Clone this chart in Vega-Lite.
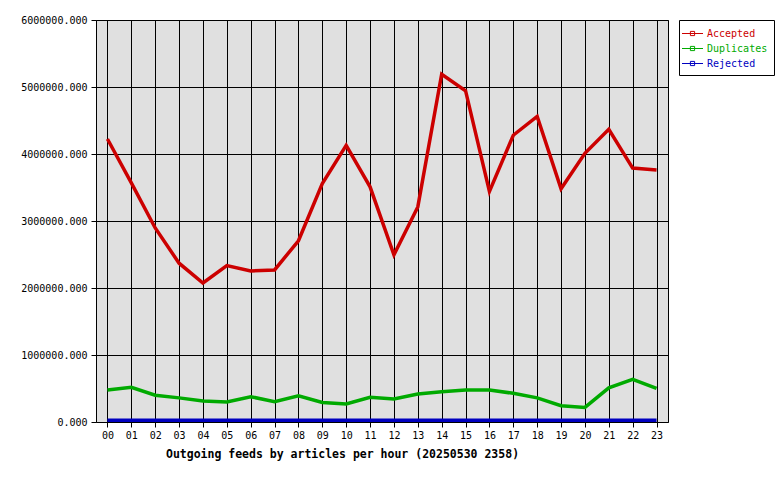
{
  "$schema": "https://vega.github.io/schema/vega-lite/v6.json",
  "width": 572,
  "height": 402,
  "autosize": "none",
  "padding": {"left": 96, "top": 20, "right": 112, "bottom": 58},
  "background": "white",
  "config": {
    "font": "DejaVu Sans Mono",
    "view": {"fill": "#e0e0e0", "stroke": "black", "strokeWidth": 1},
    "axis": {
      "gridColor": "black", "gridOpacity": 1, "gridWidth": 1,
      "tickColor": "black", "tickSize": 5, "tickWidth": 1,
      "domain": false,
      "labelFont": "DejaVu Sans Mono", "labelFontSize": 10, "labelColor": "black",
      "titleFont": "DejaVu Sans Mono", "titleColor": "black"
    }
  },
  "data": {
    "values": [
      {"hour": "00", "series": "Accepted", "value": 4224000},
      {"hour": "01", "series": "Accepted", "value": 3570000},
      {"hour": "02", "series": "Accepted", "value": 2896000},
      {"hour": "03", "series": "Accepted", "value": 2370000},
      {"hour": "04", "series": "Accepted", "value": 2075000},
      {"hour": "05", "series": "Accepted", "value": 2335000},
      {"hour": "06", "series": "Accepted", "value": 2255000},
      {"hour": "07", "series": "Accepted", "value": 2270000},
      {"hour": "08", "series": "Accepted", "value": 2705000},
      {"hour": "09", "series": "Accepted", "value": 3560000},
      {"hour": "10", "series": "Accepted", "value": 4130000},
      {"hour": "11", "series": "Accepted", "value": 3510000},
      {"hour": "12", "series": "Accepted", "value": 2495000},
      {"hour": "13", "series": "Accepted", "value": 3210000},
      {"hour": "14", "series": "Accepted", "value": 5190000},
      {"hour": "15", "series": "Accepted", "value": 4945000},
      {"hour": "16", "series": "Accepted", "value": 3440000},
      {"hour": "17", "series": "Accepted", "value": 4280000},
      {"hour": "18", "series": "Accepted", "value": 4560000},
      {"hour": "19", "series": "Accepted", "value": 3480000},
      {"hour": "20", "series": "Accepted", "value": 4010000},
      {"hour": "21", "series": "Accepted", "value": 4370000},
      {"hour": "22", "series": "Accepted", "value": 3790000},
      {"hour": "23", "series": "Accepted", "value": 3760000},
      {"hour": "00", "series": "Duplicates", "value": 478000},
      {"hour": "01", "series": "Duplicates", "value": 518000},
      {"hour": "02", "series": "Duplicates", "value": 400000},
      {"hour": "03", "series": "Duplicates", "value": 360000},
      {"hour": "04", "series": "Duplicates", "value": 312000},
      {"hour": "05", "series": "Duplicates", "value": 300000},
      {"hour": "06", "series": "Duplicates", "value": 378000},
      {"hour": "07", "series": "Duplicates", "value": 302000},
      {"hour": "08", "series": "Duplicates", "value": 392000},
      {"hour": "09", "series": "Duplicates", "value": 292000},
      {"hour": "10", "series": "Duplicates", "value": 268000},
      {"hour": "11", "series": "Duplicates", "value": 368000},
      {"hour": "12", "series": "Duplicates", "value": 343000},
      {"hour": "13", "series": "Duplicates", "value": 418000},
      {"hour": "14", "series": "Duplicates", "value": 452000},
      {"hour": "15", "series": "Duplicates", "value": 478000},
      {"hour": "16", "series": "Duplicates", "value": 478000},
      {"hour": "17", "series": "Duplicates", "value": 428000},
      {"hour": "18", "series": "Duplicates", "value": 360000},
      {"hour": "19", "series": "Duplicates", "value": 242000},
      {"hour": "20", "series": "Duplicates", "value": 218000},
      {"hour": "21", "series": "Duplicates", "value": 510000},
      {"hour": "22", "series": "Duplicates", "value": 636000},
      {"hour": "23", "series": "Duplicates", "value": 502000},
      {"hour": "00", "series": "Rejected", "value": 25000},
      {"hour": "01", "series": "Rejected", "value": 25000},
      {"hour": "02", "series": "Rejected", "value": 25000},
      {"hour": "03", "series": "Rejected", "value": 25000},
      {"hour": "04", "series": "Rejected", "value": 25000},
      {"hour": "05", "series": "Rejected", "value": 25000},
      {"hour": "06", "series": "Rejected", "value": 25000},
      {"hour": "07", "series": "Rejected", "value": 25000},
      {"hour": "08", "series": "Rejected", "value": 25000},
      {"hour": "09", "series": "Rejected", "value": 25000},
      {"hour": "10", "series": "Rejected", "value": 25000},
      {"hour": "11", "series": "Rejected", "value": 25000},
      {"hour": "12", "series": "Rejected", "value": 25000},
      {"hour": "13", "series": "Rejected", "value": 25000},
      {"hour": "14", "series": "Rejected", "value": 25000},
      {"hour": "15", "series": "Rejected", "value": 25000},
      {"hour": "16", "series": "Rejected", "value": 25000},
      {"hour": "17", "series": "Rejected", "value": 25000},
      {"hour": "18", "series": "Rejected", "value": 25000},
      {"hour": "19", "series": "Rejected", "value": 25000},
      {"hour": "20", "series": "Rejected", "value": 25000},
      {"hour": "21", "series": "Rejected", "value": 25000},
      {"hour": "22", "series": "Rejected", "value": 25000},
      {"hour": "23", "series": "Rejected", "value": 25000}
    ]
  },
  "mark": {"type": "line", "strokeWidth": 3.5, "interpolate": "linear"},
  "encoding": {
    "x": {
      "field": "hour", "type": "ordinal",
      "scale": {"type": "point", "padding": 0.48},
      "axis": {
        "grid": true, "labelAngle": 0, "labelPadding": 3,
        "title": "Outgoing feeds by articles per hour (20250530 2358)",
        "titleFontSize": 11.5, "titleFontWeight": "bold",
        "titleX": 246, "titleY": 35, "titleAlign": "center", "titleBaseline": "alphabetic"
      }
    },
    "y": {
      "field": "value", "type": "quantitative",
      "scale": {"domain": [0, 6000000], "nice": false, "zero": true},
      "axis": {
        "grid": true, "values": [0, 1000000, 2000000, 3000000, 4000000, 5000000, 6000000],
        "format": ".3f", "title": null, "labelPadding": 4
      }
    },
    "color": {
      "field": "series", "type": "nominal",
      "scale": {"domain": ["Accepted", "Duplicates", "Rejected"], "range": ["#cc0000", "#00aa00", "#0000c0"]},
      "legend": {
        "title": null, "orient": "none", "legendX": 583, "legendY": 0,
        "strokeColor": "black", "fillColor": "white", "padding": 6,
        "symbolType": "M-1.5,0H1.5M-0.3,-0.3H0.3V0.3H-0.3Z",
        "symbolSize": 196, "symbolStrokeWidth": 1, "symbolFillColor": "transparent",
        "labelFont": "DejaVu Sans Mono", "labelFontSize": 10, "labelOffset": 7,
        "rowPadding": 2,
        "encode": {
          "labels": {"update": {"fill": {"scale": "color", "field": "value"}}},
          "symbols": {"update": {"fill": {"value": "transparent"}}}
        }
      }
    },
    "order": {"field": "series"}
  }
}
